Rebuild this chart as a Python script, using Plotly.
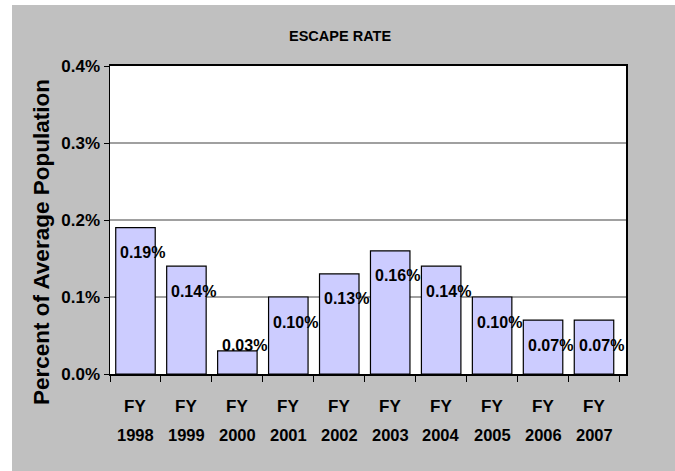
import plotly.graph_objects as go

categories = ["FY 1998", "FY 1999", "FY 2000", "FY 2001", "FY 2002",
              "FY 2003", "FY 2004", "FY 2005", "FY 2006", "FY 2007"]
prefix_labels = ["FY"] * 10
year_labels = ["1998", "1999", "2000", "2001", "2002",
               "2003", "2004", "2005", "2006", "2007"]
escape_rate = [0.19, 0.14, 0.03, 0.10, 0.13, 0.16, 0.14, 0.10, 0.07, 0.07]
y_ticks = [0.0, 0.1, 0.2, 0.3, 0.4]

# page offset of the grey chart box inside the white page
OX, OY = 12, 5
W, H = 675 - OX, 471 - OY
ML, MR, MT, MB = 98, 49, 61, 97
PW, PH = W - ML - MR, H - MT - MB

FONT = "Liberation Sans, Arial, sans-serif"

def px_x(p):
    return (p - OX - ML) / PW

def px_y(p):
    return (OY + MT + PH - p) / PH

def bfont(size):
    return dict(family=FONT, size=size, color="#000000", weight="bold")

fig = go.Figure()
fig.add_trace(go.Bar(
    x=categories, y=escape_rate,
    marker=dict(color="#ccccff", line=dict(color="#000000", width=1.2)),
    width=0.775, hoverinfo="skip",
))

ann = []
for c, v in zip(categories, escape_rate):
    ann.append(dict(
        x=c, y=v, xref="x", yref="y", text=f"{v:.2f}%", showarrow=False,
        xanchor="left", yanchor="middle", xshift=-17,
        yshift=(-25 if v >= 0.05 else 5),
        font=bfont(16),
    ))
for c, p, yr in zip(categories, prefix_labels, year_labels):
    ann.append(dict(x=c, y=px_y(406), xref="x", yref="paper", text=p,
                    showarrow=False, yanchor="middle", font=bfont(17)))
    ann.append(dict(x=c, y=px_y(435), xref="x", yref="paper", text=yr,
                    showarrow=False, yanchor="middle", font=bfont(16.5)))
ann.append(dict(x=px_x(41), y=px_y(242), xref="paper", yref="paper",
                text="Percent of Average Population", textangle=-90,
                showarrow=False, xanchor="center", yanchor="middle",
                font=bfont(22.5)))
ann.append(dict(x=px_x(340), y=px_y(36), xref="paper", yref="paper",
                text="ESCAPE RATE", showarrow=False,
                xanchor="center", yanchor="middle", font=bfont(14.5)))

fig.update_layout(
    width=W, height=H,
    margin=dict(l=ML, r=MR, t=MT, b=MB, pad=0),
    paper_bgcolor="#c0c0c0", plot_bgcolor="#ffffff",
    showlegend=False, bargap=0.225,
    annotations=ann,
    xaxis=dict(
        showticklabels=False, tickson="boundaries", ticks="outside",
        ticklen=6, tickcolor="#000000", tickwidth=1,
        showline=True, linecolor="#000000", linewidth=2, mirror=True,
        showgrid=False, fixedrange=True,
    ),
    yaxis=dict(
        range=[0, 0.4], tickvals=y_ticks, ticktext=[f"{t:.1f}%" for t in y_ticks],
        ticks="outside", ticklen=5, tickcolor="#000000",
        showline=True, linecolor="#000000", linewidth=1.5, mirror=True,
        showgrid=True, gridcolor="#a0a0a0", gridwidth=1.3, zeroline=False,
        tickfont=bfont(17),
        fixedrange=True,
    ),
)

fig.write_html(
    "out.html",
    config={"displayModeBar": False, "staticPlot": True},
    post_script=(
        "document.body.style.margin='0';"
        "document.body.style.overflow='hidden';"
        "document.body.style.background='#ffffff';"
        "var d=document.getElementById('{plot_id}');"
        "d.style.position='absolute';"
        f"d.style.left='{OX}px';d.style.top='{OY}px';"
    ),
)
